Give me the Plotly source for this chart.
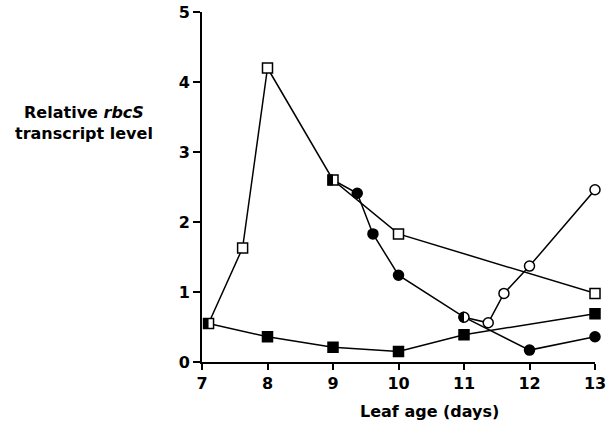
import math
import plotly.graph_objects as go

# Open squares
os_x = [7.1, 7.62, 8, 9, 10, 13]
os_y = [0.55, 1.63, 4.2, 2.6, 1.83, 0.98]
# Filled circles
fc_x = [9, 9.37, 9.61, 10, 11, 12, 13]
fc_y = [2.6, 2.41, 1.83, 1.24, 0.64, 0.17, 0.36]
# Open circles
oc_x = [11, 11.37, 11.61, 12, 13]
oc_y = [0.64, 0.56, 0.98, 1.37, 2.46]
# Filled squares
fs_x = [7.1, 8, 9, 10, 11, 13]
fs_y = [0.55, 0.36, 0.21, 0.15, 0.39, 0.69]
# Half-filled junction points (left half black)
hs_x = [7.1, 9]
hs_y = [0.55, 2.6]
hc_x = [11]
hc_y = [0.64]

x_ticks = [7, 8, 9, 10, 11, 12, 13]
y_ticks = [0, 1, 2, 3, 4, 5]

FONT = "DejaVu Sans"
LINE = dict(color="black", width=1.5)
MS = 10
fig = go.Figure()

def line(x, y):
    fig.add_trace(go.Scatter(x=x, y=y, mode="lines", line=LINE, showlegend=False,
                             hoverinfo="skip", cliponaxis=False))

def marks(x, y, symbol, fill):
    fig.add_trace(go.Scatter(x=x, y=y, mode="markers", showlegend=False, cliponaxis=False,
                             marker=dict(symbol=symbol, size=MS, color=fill,
                                         line=dict(color="black", width=1.5))))

line(fs_x, fs_y)
line(os_x, os_y)
line(fc_x, fc_y)
line(oc_x, oc_y)
marks(fs_x[1:], fs_y[1:], "square", "black")
marks([x for x in os_x if x not in hs_x], [y for x, y in zip(os_x, os_y) if x not in hs_x], "square", "white")
marks(fc_x[1:4] + fc_x[5:], fc_y[1:4] + fc_y[5:], "circle", "black")
marks(oc_x[1:], oc_y[1:], "circle", "white")
marks(hs_x, hs_y, "square", "white")
marks(hc_x, hc_y, "circle", "white")

# left-half fills for the junction markers
shapes = []
h = MS / 2 + 0.5
for x, y in zip(hs_x, hs_y):
    shapes.append(dict(type="rect", xref="x", yref="y", xsizemode="pixel", ysizemode="pixel",
                       xanchor=x, yanchor=y, x0=-h, x1=0, y0=-h, y1=h,
                       fillcolor="black", line=dict(width=0), layer="above"))
r = MS / 2 + 0.6
pts = [(-r * math.sin(math.pi * k / 16), r * math.cos(math.pi * k / 16)) for k in range(17)]
semi = "M " + " L ".join(f"{px:.2f},{py:.2f}" for px, py in pts) + " Z"
for x, y in zip(hc_x, hc_y):
    shapes.append(dict(type="path", xref="x", yref="y", xsizemode="pixel", ysizemode="pixel",
                       xanchor=x, yanchor=y, path=semi,
                       fillcolor="black", line=dict(width=0), layer="above"))

fig.update_layout(
    width=613, height=433,
    margin=dict(l=202, r=18, t=12, b=71, autoexpand=False),
    paper_bgcolor="white", plot_bgcolor="white",
    font=dict(family=FONT, color="black"),
    shapes=shapes,
    hovermode=False,
    xaxis=dict(range=[7, 13], tickvals=x_ticks, ticktext=[f"<b>{v}</b>" for v in x_ticks],
               showgrid=False, zeroline=False, showline=True, linecolor="black", linewidth=2,
               ticks="outside", ticklen=6, tickwidth=2, tickcolor="black", automargin=False,
               ticklabeloverflow="allow", tickfont=dict(size=16, family=FONT)),
    yaxis=dict(range=[0, 5], tickvals=y_ticks, ticktext=[f"<b>{v}</b>" for v in y_ticks],
               showgrid=False, zeroline=False, showline=True, linecolor="black", linewidth=2,
               ticks="outside", ticklen=7, tickwidth=2, tickcolor="black", automargin=False,
               ticklabeloverflow="allow", tickfont=dict(size=16, family=FONT)),
    annotations=[
        dict(text="<b>Leaf age (days)</b>", xref="paper", yref="paper", x=0.58, y=-0.14,
             xanchor="center", yanchor="middle", showarrow=False, font=dict(size=16, family=FONT)),
        dict(text="<b>Relative <i>rbcS</i></b><br><b>transcript level</b>", xref="paper", yref="paper",
             x=-0.30, y=0.683, xanchor="center", yanchor="middle", showarrow=False,
             align="center", font=dict(size=16, family=FONT)),
    ],
)
fig.write_html("out.html", config={"displayModeBar": False},
               post_script="document.body.style.margin='0';")
